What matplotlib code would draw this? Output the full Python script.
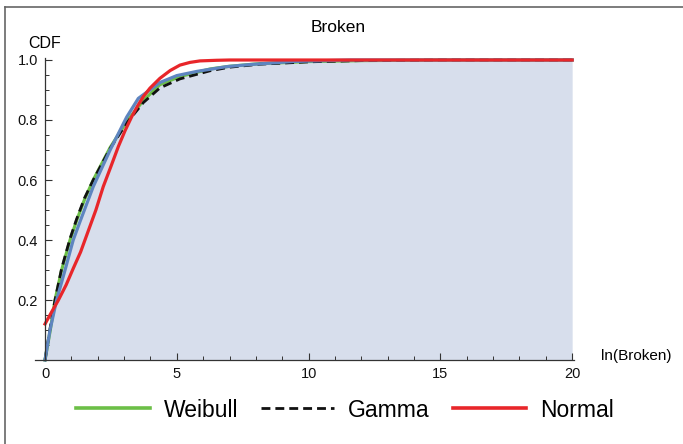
import numpy as np
import matplotlib
matplotlib.use("Agg")
import matplotlib.pyplot as plt
from matplotlib.lines import Line2D
from matplotlib.ticker import MultipleLocator, FormatStrFormatter

plt.rcParams['font.family'] = ['Liberation Sans', 'DejaVu Sans']

emp_x = [0, 0.19, 0.44, 0.76, 1.07, 1.33, 1.83, 2.47, 3.1, 3.54, 4.36, 5.0,
         5.76, 6.9, 7.8, 9.42, 11.6, 20]
emp_y = [0, 0.10, 0.20, 0.30, 0.40, 0.462, 0.578, 0.70, 0.81, 0.872, 0.925,
         0.948, 0.962, 0.978, 0.985, 0.995, 1.0, 1.0]

# fitted CDFs
weib_x = [0, 0.1, 0.2, 0.38, 0.63, 0.95, 1.2, 1.5, 1.83, 2.47, 3.1, 3.73,
          4.36, 5.12, 6.26, 7.0, 8.16, 10.06, 12, 15, 20]
weib_y = [0, 0.05, 0.10, 0.20, 0.30, 0.40, 0.465, 0.535, 0.60, 0.708, 0.795,
          0.865, 0.918, 0.945, 0.970, 0.979, 0.988, 0.995, 0.998, 1.0, 1.0]

gamma_x = [0, 0.1, 0.2, 0.38, 0.63, 0.95, 1.2, 1.5, 1.83, 2.47, 3.1, 3.73,
           4.36, 5.12, 6.26, 7.0, 8.16, 10.06, 12, 15, 20]
gamma_y = [0, 0.055, 0.11, 0.20, 0.305, 0.405, 0.47, 0.54, 0.60, 0.705, 0.79,
           0.858, 0.907, 0.937, 0.964, 0.976, 0.986, 0.994, 0.998, 1.0, 1.0]

norm_x = [0, 0.25, 0.51, 0.8, 1.07, 1.35, 1.64, 1.93, 2.21, 2.5, 2.78, 3.04,
          3.29, 3.5, 3.73, 3.98, 4.36, 4.75, 5.12, 5.5, 5.88, 6.5, 7.0, 20]
norm_y = [0.12, 0.16, 0.20, 0.25, 0.305, 0.36, 0.43, 0.50, 0.578, 0.645,
          0.711, 0.765, 0.811, 0.845, 0.878, 0.906, 0.939, 0.965, 0.983,
          0.992, 0.997, 0.999, 1.0, 1.0]

fig = plt.figure(figsize=(6.83, 4.44), dpi=100)
ax = fig.add_axes([35 / 683, 84 / 444, 539 / 683, 301.8 / 444])

ax.fill_between(emp_x, 0, emp_y, color='#d7deec', lw=0)
ax.plot(weib_x, weib_y, color='#6cbf47', lw=2.3, clip_on=False)
ax.plot(gamma_x, gamma_y, color='#111111', lw=2.0, dashes=(3.2, 1.8), clip_on=False)
ax.plot(emp_x, emp_y, color='#5e85c0', lw=2.3, clip_on=False)
ax.plot(norm_x, norm_y, color='#e8262a', lw=2.3, clip_on=False)

ax.set_xlim(-0.38, 20.07)
ax.set_ylim(0, 1.006)

for s in ['top', 'right']:
    ax.spines[s].set_visible(False)
ax.spines['left'].set_position(('data', 0))
ax.spines['bottom'].set_position(('data', 0))
for s in ['left', 'bottom']:
    ax.spines[s].set_color('#333333')
    ax.spines[s].set_linewidth(0.9)

ax.xaxis.set_major_locator(MultipleLocator(5))
ax.xaxis.set_minor_locator(MultipleLocator(1))
ax.yaxis.set_major_locator(MultipleLocator(0.2))
ax.yaxis.set_minor_locator(MultipleLocator(0.05))
ax.yaxis.set_major_formatter(FormatStrFormatter('%.1f'))
ax.set_yticks([0.2, 0.4, 0.6, 0.8, 1.0])

ax.tick_params(which='both', direction='in', color='#333333', labelsize=10.5,
               labelcolor='#111111')
ax.tick_params(which='major', length=5, width=0.8)
ax.tick_params(which='minor', length=3, width=0.7)
ax.tick_params(axis='y', pad=5)
ax.tick_params(axis='x', pad=5)

ax.text(0, 1.055, 'CDF', ha='center', va='center', fontsize=11.5, clip_on=False)
ax.text(21.1, 0.015, 'ln(Broken)', ha='left', va='center', fontsize=11,
        clip_on=False)
fig.text(0.495, 1 - 27 / 444, 'Broken', ha='center', va='center', fontsize=12.5)

handles = [Line2D([], [], color='#6cbf47', lw=2.6),
           Line2D([], [], color='#111111', lw=2.0, dashes=(3.2, 1.8)),
           Line2D([], [], color='#e8262a', lw=2.6)]
fig.legend(handles, ['Weibull', 'Gamma', 'Normal'], loc='center',
           bbox_to_anchor=(0.505, 1 - 410 / 444), ncol=3, frameon=False,
           fontsize=16.5, handlelength=3.2, handletextpad=0.6, columnspacing=1.0)

# outer frame (top and left edges)
fig.add_artist(Line2D([5 / 683, 1], [1 - 7 / 444, 1 - 7 / 444],
                      transform=fig.transFigure, color='#666666', lw=1.2))
fig.add_artist(Line2D([5 / 683, 5 / 683], [0, 1 - 7 / 444],
                      transform=fig.transFigure, color='#666666', lw=1.2))

fig.savefig('out.png', dpi=100)
